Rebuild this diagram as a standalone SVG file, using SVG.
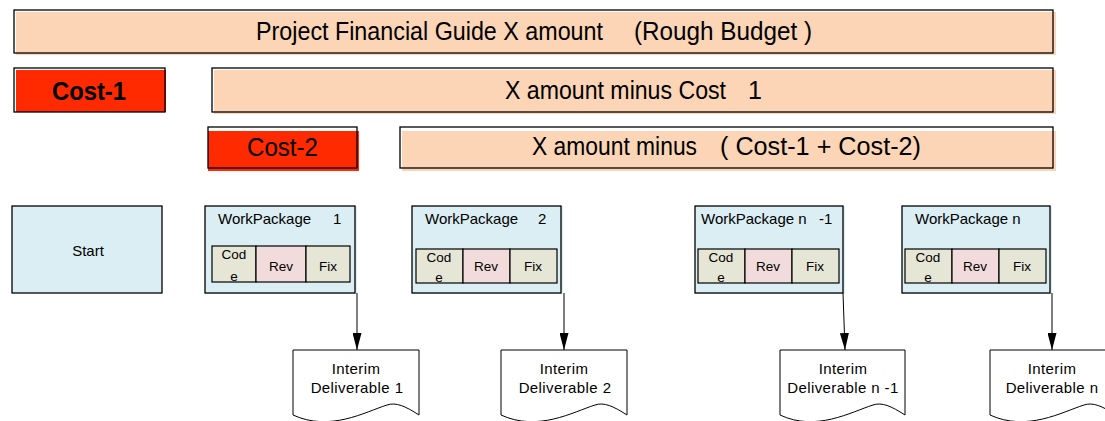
<svg xmlns="http://www.w3.org/2000/svg" width="1105" height="421" viewBox="0 0 1105 421">
<style>
text{font-family:"Liberation Sans",Arial,sans-serif;fill:#000}
.peach{fill:#FBD5B5}
.red{fill:#FF2A00}
.blue{fill:#DAEEF3}
.frame{fill:none;stroke:#000;stroke-width:1.3}
.big{font-size:25px}
.wp{font-size:15px}
.sm{font-size:13.5px}
.dl{font-size:15px;letter-spacing:0.4px}
.cell{stroke:#000;stroke-width:1.2}
.code{fill:#E6E6D6}
.rev{fill:#F2DCDB}
.doc{fill:#fff;stroke:#000;stroke-width:1}
.conn{stroke:#000;stroke-width:1;fill:none}
</style>
<defs>
<marker id="ah" markerWidth="17" markerHeight="9" refX="17" refY="4.5" orient="auto" markerUnits="userSpaceOnUse">
<path d="M0,0 L17,4.5 L0,9 Z" fill="#000"/>
</marker>
</defs>

<g id="budget">
<rect class="peach" x="16" y="12" width="1040" height="43"/>
<rect class="frame" x="14" y="10" width="1039" height="43"/>
<text class="big" x="256" y="40" textLength="347" lengthAdjust="spacingAndGlyphs">Project Financial Guide X amount</text>
<text class="big" x="634" y="40" textLength="178" lengthAdjust="spacingAndGlyphs">(Rough Budget )</text>
</g>

<g id="cost1">
<rect class="red" x="16" y="70" width="150" height="42"/>
<rect class="frame" x="14" y="68" width="151" height="44"/>
<text x="52" y="100" font-size="25" font-weight="bold" textLength="74" lengthAdjust="spacingAndGlyphs">Cost-1</text>
</g>

<g id="remaining1">
<rect class="peach" x="214" y="70" width="842" height="44"/>
<rect class="frame" x="212" y="68" width="841" height="44"/>
<text class="big" x="505" y="99" textLength="221" lengthAdjust="spacingAndGlyphs">X amount minus Cost</text>
<text class="big" x="748" y="99">1</text>
</g>

<g id="cost2">
<rect class="red" x="208" y="131" width="151" height="40"/>
<rect class="frame" x="208" y="127" width="149" height="41"/>
<text x="247" y="156" font-size="25" textLength="71" lengthAdjust="spacingAndGlyphs">Cost-2</text>
</g>

<g id="remaining2">
<rect class="peach" x="402" y="131" width="654" height="40"/>
<rect class="frame" x="400" y="127" width="653" height="41"/>
<text class="big" x="532" y="155" textLength="165" lengthAdjust="spacingAndGlyphs">X amount minus</text>
<text class="big" x="720" y="155" textLength="201" lengthAdjust="spacingAndGlyphs">( Cost-1 + Cost-2)</text>
</g>

<g id="start">
<rect class="blue" x="12" y="206" width="150" height="87"/>
<rect class="frame" x="12" y="206" width="150" height="87"/>
<text x="88" y="256" font-size="15" text-anchor="middle">Start</text>
</g>

<g id="wp1">
<rect class="blue" x="205" y="206" width="152" height="88"/>
<rect class="frame" x="205" y="206" width="150" height="87"/>
<text class="wp" x="218" y="224">WorkPackage</text>
<text class="wp" x="333" y="224">1</text>
<rect class="cell code" x="212" y="246" width="44" height="36"/>
<rect class="cell rev" x="256" y="246" width="50" height="36"/>
<rect class="cell code" x="306" y="246" width="44" height="36"/>
<text class="sm" x="234" y="259" text-anchor="middle">Cod</text>
<text class="sm" x="234" y="281" text-anchor="middle">e</text>
<text class="sm" x="281" y="271" text-anchor="middle">Rev</text>
<text class="sm" x="328" y="271" text-anchor="middle">Fix</text>
</g>

<g id="wp2">
<rect class="blue" x="412" y="206" width="151" height="88"/>
<rect class="frame" x="412" y="206" width="149" height="87"/>
<text class="wp" x="425" y="224">WorkPackage</text>
<text class="wp" x="538" y="224">2</text>
<rect class="cell code" x="416" y="249" width="47" height="34"/>
<rect class="cell rev" x="463" y="249" width="47" height="34"/>
<rect class="cell code" x="510" y="249" width="47" height="34"/>
<text class="sm" x="439" y="262" text-anchor="middle">Cod</text>
<text class="sm" x="439" y="282" text-anchor="middle">e</text>
<text class="sm" x="486" y="271" text-anchor="middle">Rev</text>
<text class="sm" x="533" y="271" text-anchor="middle">Fix</text>
</g>

<g id="wpn1">
<rect class="blue" x="695" y="206" width="150" height="88"/>
<rect class="frame" x="695" y="206" width="148" height="87"/>
<text class="wp" x="701" y="224">WorkPackage n</text>
<text class="wp" x="819" y="224">-1</text>
<rect class="cell code" x="698" y="249" width="47" height="34"/>
<rect class="cell rev" x="745" y="249" width="47" height="34"/>
<rect class="cell code" x="792" y="249" width="47" height="34"/>
<text class="sm" x="721" y="262" text-anchor="middle">Cod</text>
<text class="sm" x="721" y="282" text-anchor="middle">e</text>
<text class="sm" x="768" y="271" text-anchor="middle">Rev</text>
<text class="sm" x="815" y="271" text-anchor="middle">Fix</text>
</g>

<g id="wpn">
<rect class="blue" x="902" y="206" width="150" height="88"/>
<rect class="frame" x="902" y="206" width="148" height="87"/>
<text class="wp" x="915" y="224">WorkPackage n</text>
<rect class="cell code" x="905" y="249" width="47" height="34"/>
<rect class="cell rev" x="952" y="249" width="47" height="34"/>
<rect class="cell code" x="999" y="249" width="47" height="34"/>
<text class="sm" x="928" y="262" text-anchor="middle">Cod</text>
<text class="sm" x="928" y="282" text-anchor="middle">e</text>
<text class="sm" x="975" y="271" text-anchor="middle">Rev</text>
<text class="sm" x="1022" y="271" text-anchor="middle">Fix</text>
</g>

<g id="connectors">
<line class="conn" x1="357" y1="293" x2="357" y2="350" marker-end="url(#ah)"/>
<line class="conn" x1="564" y1="293" x2="564" y2="350" marker-end="url(#ah)"/>
<line class="conn" x1="843" y1="293" x2="845" y2="350" marker-end="url(#ah)"/>
<line class="conn" x1="1052" y1="293" x2="1052" y2="350" marker-end="url(#ah)"/>
</g>

<g id="del1">
<path class="doc" d="M293,350 H419 V415 C405,406 396,402 387,405 C365,412 330,432 293,415 Z"/>
<text class="dl" x="356" y="374" text-anchor="middle">Interim</text>
<text class="dl" x="357" y="393" text-anchor="middle">Deliverable 1</text>
</g>

<g id="del2">
<path class="doc" d="M501,350 H627 V415 C613,406 604,402 595,405 C573,412 538,432 501,415 Z"/>
<text class="dl" x="564" y="374" text-anchor="middle">Interim</text>
<text class="dl" x="565" y="393" text-anchor="middle">Deliverable 2</text>
</g>

<g id="deln1">
<path class="doc" d="M780,350 H905 V415 C891,406 882,402 873,405 C851,412 816,432 780,415 Z"/>
<text class="dl" x="843" y="374" text-anchor="middle">Interim</text>
<text class="dl" x="843" y="393" text-anchor="middle">Deliverable n  -1</text>
</g>

<g id="deln">
<path class="doc" d="M990,350 H1116 V415 C1102,406 1093,402 1084,405 C1062,412 1027,432 990,415 Z"/>
<text class="dl" x="1052" y="374" text-anchor="middle">Interim</text>
<text class="dl" x="1052" y="393" text-anchor="middle">Deliverable n</text>
</g>
</svg>
